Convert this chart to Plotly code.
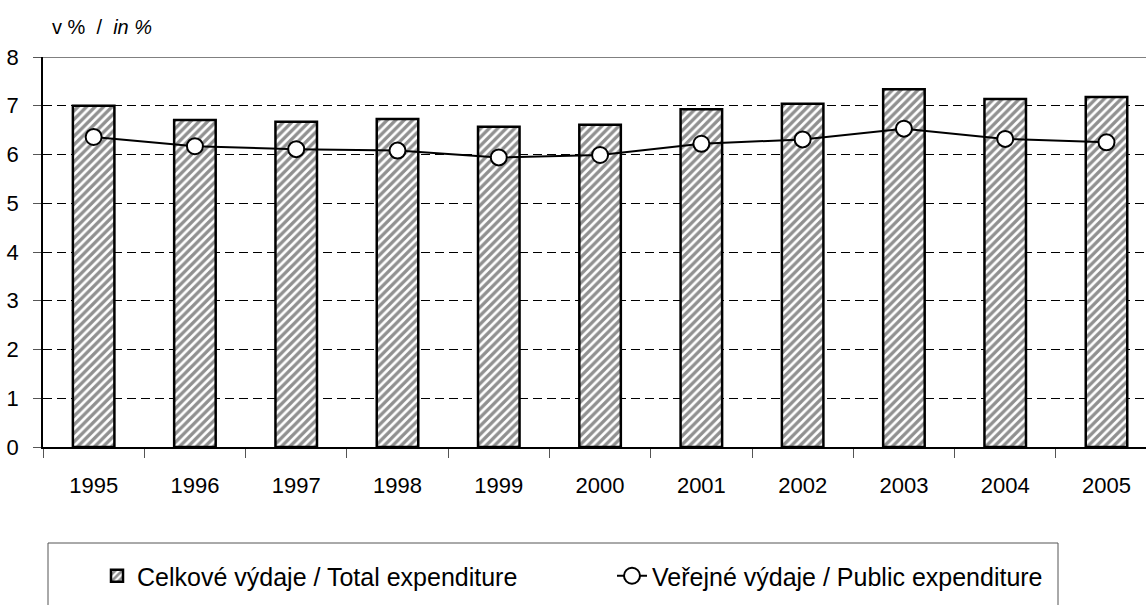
import plotly.graph_objects as go

years = ["1995", "1996", "1997", "1998", "1999", "2000", "2001", "2002", "2003", "2004", "2005"]
total_exp = [7.00, 6.71, 6.67, 6.73, 6.57, 6.61, 6.93, 7.04, 7.34, 7.14, 7.18]
public_exp = [6.36, 6.17, 6.11, 6.08, 5.94, 5.99, 6.22, 6.31, 6.53, 6.32, 6.25]

name_total = "Celkové výdaje / Total expenditure"
name_public = "Veřejné výdaje / Public expenditure"
y_ticks = [0, 1, 2, 3, 4, 5, 6, 7, 8]

NARROW = "Liberation Sans Narrow, Arial Narrow, Liberation Sans, Arial, sans-serif"
ARIAL = "Liberation Sans, Arial, sans-serif"

fig = go.Figure()
fig.add_trace(go.Bar(
    x=years, y=total_exp, name=name_total, width=0.41,
    marker=dict(color="white",
                line=dict(color="black", width=2.5),
                pattern=dict(shape="/", fgcolor="#222222", bgcolor="white",
                             size=6, solidity=0.55)),
))
fig.add_trace(go.Scatter(
    x=years, y=public_exp, name=name_public, mode="lines+markers",
    line=dict(color="black", width=2),
    marker=dict(symbol="circle", size=16, color="white",
                line=dict(color="black", width=2)),
))

# top border of plot area (gray)
fig.add_shape(type="line", xref="paper", yref="y", x0=0, x1=1, y0=8, y1=8,
              line=dict(color="#808080", width=2), layer="below")
# legend frame (cut by bottom of image)
fig.add_shape(type="rect", xref="paper", yref="paper",
              x0=(48 - 43) / 1103, x1=(1058 - 43) / 1103,
              y0=(447 - 620) / 390, y1=(447 - 543) / 390,
              line=dict(color="#555555", width=1), fillcolor="rgba(0,0,0,0)")

fig.add_annotation(text="v %  /  <i>in %</i>", xref="paper", yref="paper",
                   x=(50 - 43) / 1103, y=(447 - 27) / 390,
                   xanchor="left", yanchor="middle", showarrow=False,
                   font=dict(family=NARROW, size=20, color="black"))

fig.update_layout(
    width=1146, height=605,
    margin=dict(l=43, r=0, t=57, b=158),
    plot_bgcolor="white", paper_bgcolor="white",
    showlegend=True,
    legend=dict(orientation="h", x=(97 - 43) / 1103, y=(447 - 553) / 390,
                xanchor="left", yanchor="top",
                font=dict(family=ARIAL, size=25, color="black"),
                entrywidth=470, entrywidthmode="pixels",
                bgcolor="rgba(0,0,0,0)", borderwidth=0),
)
fig.update_xaxes(
    type="category", range=[-0.5, 10.39], automargin=False,
    tickson="boundaries", ticks="outside", ticklen=9, tickcolor="#555555",
    showline=True, linecolor="black", linewidth=1.5,
    showgrid=False, ticklabelstandoff=18,
    tickfont=dict(family=NARROW, size=22, color="black"),
)
fig.update_yaxes(
    range=[0, 8], tickvals=y_ticks, ticks="outside", ticklen=8, tickcolor="#555555",
    showline=True, linecolor="black", linewidth=1.5, automargin=False,
    showgrid=True, gridcolor="black", gridwidth=1, griddash="9px,5px",
    zeroline=False, ticklabelstandoff=10,
    tickfont=dict(family=NARROW, size=22, color="black"),
)

fig.write_html("out.html", config={"displayModeBar": False},
               post_script="document.body.style.margin='0';")
